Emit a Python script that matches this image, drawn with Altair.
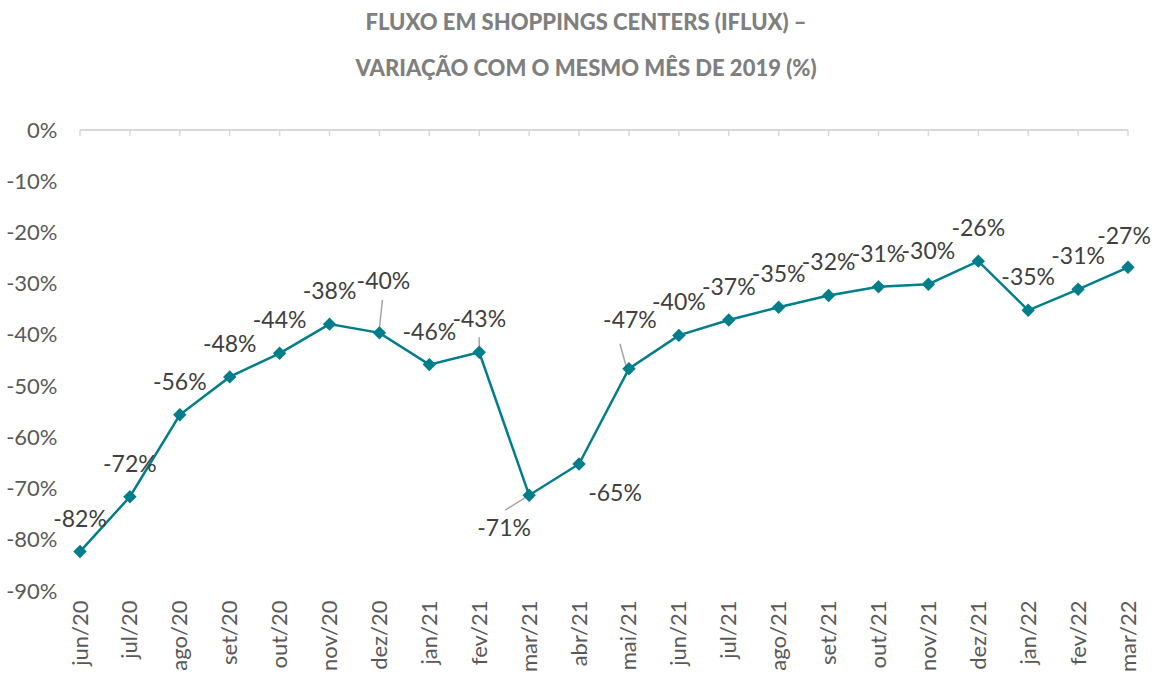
import altair as alt
import pandas as pd

months = ["jun/20", "jul/20", "ago/20", "set/20", "out/20", "nov/20", "dez/20",
          "jan/21", "fev/21", "mar/21", "abr/21", "mai/21", "jun/21", "jul/21",
          "ago/21", "set/21", "out/21", "nov/21", "dez/21", "jan/22", "fev/22", "mar/22"]
values = [-82.3, -71.6, -55.6, -48.2, -43.6, -37.9, -39.6,
          -45.8, -43.4, -71.3, -65.2, -46.6, -40.1, -37.1,
          -34.6, -32.3, -30.6, -30.1, -25.6, -35.2, -31.1, -26.8]
y_ticks = [0, -10, -20, -30, -40, -50, -60, -70, -80, -90]

df = pd.DataFrame({"m": months, "v": values})
df["lbl"] = [f"{round(v)}%" for v in values]

TEAL = "#007E8A"
FONT = "Lato"

x = alt.X("m:N", sort=months, title=None,
          scale=alt.Scale(type="point", padding=0),
          axis=alt.Axis(labelAngle=-90, labelFontSize=22, labelFont=FONT,
                        labelColor="#595959", domain=False, ticks=False,
                        tickSize=0, labelPadding=9, grid=False))
y = alt.Y("v:Q", title=None,
          scale=alt.Scale(domain=[-90, 0], nice=False, zero=False),
          axis=alt.Axis(values=y_ticks, labelExpr="datum.value + '%'",
                        labelFontSize=22, labelFont=FONT, labelColor="#595959",
                        domain=False, ticks=False, tickSize=0, labelPadding=23,
                        grid=False))

base = alt.Chart(df)

zero_line = base.mark_rule(color="#D9D9D9", strokeWidth=1.5).encode(y=alt.datum(0))
ticks = base.mark_rule(color="#D9D9D9", strokeWidth=1.5, y2Offset=6).encode(
    x=x, y=alt.datum(0), y2=alt.datum(0))

line = base.mark_line(color=TEAL, strokeWidth=2.5).encode(x=x, y=y)
pts = base.mark_point(shape="diamond", filled=True, size=180, color=TEAL, opacity=1).encode(x=x, y=y)

special = ["dez/20", "mai/21", "mar/21", "abr/21", "mar/22"]
lbl_style = dict(fontSize=23, font=FONT, color="#404040", baseline="middle", align="center")

labels_default = base.transform_filter(
    alt.FieldOneOfPredicate(field="m", oneOf=[m for m in months if m not in special])
).mark_text(dy=-32, **lbl_style).encode(x=x, y=y, text="lbl:N")

def lab(month, dx, dy):
    return base.transform_filter(alt.datum.m == month).mark_text(dx=dx, dy=dy, **lbl_style).encode(
        x=x, y=y, text="lbl:N")

def leader(month, xo, yo, x2o, y2o):
    return base.transform_filter(alt.datum.m == month).mark_rule(
        color="#A6A6A6", strokeWidth=1.5, xOffset=xo, yOffset=yo, x2Offset=x2o, y2Offset=y2o
    ).encode(x=x, x2=alt.X2("m"), y=y, y2=alt.Y2("v"))

layers = [
    zero_line, ticks,
    leader("dez/20", 0, -5, 3, -33),
    leader("fev/21", 0, -2, 0, -15),
    leader("mar/21", -3, 2, -24, 15),
    leader("mai/21", -3, -3, -9, -25),
    line, pts, labels_default,
    lab("dez/20", 4, -51),
    lab("mai/21", 1, -48),
    lab("mar/21", -25, 34),
    lab("abr/21", 36, 30),
    lab("mar/22", -4, -30),
]

chart = alt.layer(*layers).properties(
    width=1048, height=461,
    background="white",
    title=alt.TitleParams(
        text=["FLUXO EM SHOPPINGS CENTERS (IFLUX) –", "VARIAÇÃO COM O MESMO MÊS DE 2019 (%)"],
        fontSize=22, font=FONT, fontWeight=900, color="#7F7F7F",
        lineHeight=46, anchor="middle", offset=38, dx=-18),
    autosize=alt.AutoSizeParams(type="none"),
    padding={"left": 80, "top": 130, "right": 24, "bottom": 86},
).configure_view(stroke="transparent", strokeWidth=0)

chart.save("out.html", embed_options={"renderer": "svg", "actions": False})
